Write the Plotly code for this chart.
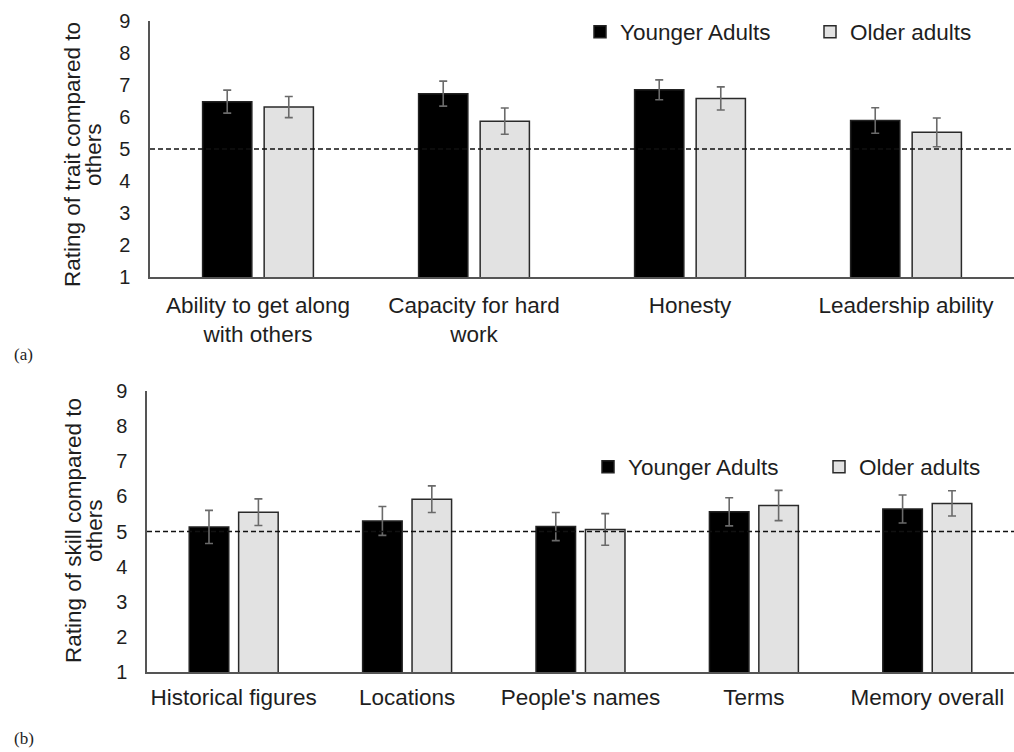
import plotly.graph_objects as go

# Panel (a): personality traits
trait_labels = ["Ability to get along<br>with others", "Capacity for hard<br>work", "Honesty", "Leadership ability"]
trait_younger = [6.48, 6.73, 6.85, 5.89]
trait_younger_err = [0.36, 0.39, 0.31, 0.40]
trait_older = [6.31, 5.87, 6.58, 5.52]
trait_older_err = [0.33, 0.41, 0.36, 0.45]

# Panel (b): memory skills
skill_labels = ["Historical figures", "Locations", "People's names", "Terms", "Memory overall"]
skill_younger = [5.13, 5.30, 5.14, 5.56, 5.64]
skill_younger_err = [0.47, 0.41, 0.40, 0.40, 0.40]
skill_older = [5.55, 5.92, 5.06, 5.74, 5.80]
skill_older_err = [0.38, 0.38, 0.45, 0.43, 0.36]

y_ticks = [1, 2, 3, 4, 5, 6, 7, 8, 9]
midpoint = 5

FONT = "Liberation Sans, Arial, sans-serif"
SERIF = "Liberation Serif, Times New Roman, serif"
TXT = "#1e1e1e"
W, H = 1014, 752
LABEL_SIZE = 22.5


def px(x, y):
    """Pixel position -> paper coordinates."""
    return x / W, 1 - y / H


fig = go.Figure()


def add_pair(cats, yv, ye, ov, oe, xa, ya, leg_y, leg_o):
    fig.add_trace(go.Bar(
        x=cats, y=yv, name="Younger Adults", xaxis=xa, yaxis=ya, legend=leg_y,
        marker=dict(color="#000000", line=dict(color="#222222", width=1.5)),
        error_y=dict(type="data", array=ye, color="#6a6a6a", thickness=1.6, width=4),
        showlegend=True,
    ))
    fig.add_trace(go.Bar(
        x=cats, y=ov, name="Older adults", xaxis=xa, yaxis=ya, legend=leg_o,
        marker=dict(color="#e2e2e2", line=dict(color="#2a2a2a", width=1.5)),
        error_y=dict(type="data", array=oe, color="#6a6a6a", thickness=1.6, width=4),
        showlegend=True,
    ))


add_pair(trait_labels, trait_younger, trait_younger_err, trait_older, trait_older_err,
         "x", "y", "legend", "legend3")
add_pair(skill_labels, skill_younger, skill_younger_err, skill_older, skill_older_err,
         "x2", "y2", "legend2", "legend4")

axis_common_y = dict(
    range=[1, 9], tickvals=y_ticks, showgrid=False, zeroline=False,
    showline=True, linecolor="#555555", linewidth=1.5, ticks="", automargin=False,
    tickfont=dict(family=FONT, size=20, color=TXT), ticklabelstandoff=14,
)
axis_common_x = dict(
    showgrid=False, zeroline=False, showline=True, linecolor="#555555", linewidth=1.5,
    ticks="", automargin=False, tickfont=dict(family=FONT, size=LABEL_SIZE, color=TXT),
)


def legend_at(x, y):
    lx, ly = px(x, y)
    return dict(orientation="h", x=lx, y=ly, xanchor="left", yanchor="middle",
                font=dict(family=FONT, size=LABEL_SIZE, color=TXT), itemwidth=30,
                bgcolor="rgba(0,0,0,0)")


fig.update_layout(
    width=W, height=H,
    margin=dict(l=0, r=0, t=0, b=0, pad=0, autoexpand=False),
    paper_bgcolor="white", plot_bgcolor="white",
    showlegend=True,
    barmode="group", bargap=0.43, bargroupgap=0.2,
    font=dict(family=FONT, color=TXT),
    xaxis=dict(domain=[150 / W, 1.0], anchor="y", ticklabelstandoff=7, **axis_common_x),
    yaxis=dict(domain=[1 - 277 / H, 1 - 21 / H], anchor="x", **axis_common_y),
    xaxis2=dict(domain=[147 / W, 1.0], anchor="y2", ticklabelstandoff=4, **axis_common_x),
    yaxis2=dict(domain=[1 - 672 / H, 1 - 391 / H], anchor="x2", **axis_common_y),
    legend=legend_at(580, 32),
    legend3=legend_at(810, 32),
    legend2=legend_at(588, 467),
    legend4=legend_at(819, 467),
)

# Dashed reference line at the scale midpoint
for xr, yr in (("x domain", "y"), ("x2 domain", "y2")):
    fig.add_shape(type="line", xref=xr, yref=yr, x0=0, x1=1, y0=midpoint, y1=midpoint,
                  line=dict(color="#111111", width=1.5, dash="5px,3px"), layer="above")

# Y-axis titles, one annotation per line for tight line spacing
y_titles = [
    ("Rating of trait compared to", 73, 155),
    ("others", 94, 155),
    ("Rating of skill compared to", 73, 531),
    ("others", 94, 531),
]
for text, cx, cy in y_titles:
    ax, ay = px(cx, cy)
    fig.add_annotation(text=text, x=ax, y=ay, xref="paper", yref="paper",
                       xanchor="center", yanchor="middle", showarrow=False, textangle=-90,
                       font=dict(family=FONT, size=LABEL_SIZE, color=TXT))

# Panel letters
for letter, (cx, cy) in (("(a)", (12, 355)), ("(b)", (12, 738))):
    ax, ay = px(cx, cy)
    fig.add_annotation(text=letter, x=ax, y=ay, xref="paper", yref="paper",
                       xanchor="left", yanchor="middle", showarrow=False,
                       font=dict(family=SERIF, size=17, color=TXT))

fig.write_html("out.html")
